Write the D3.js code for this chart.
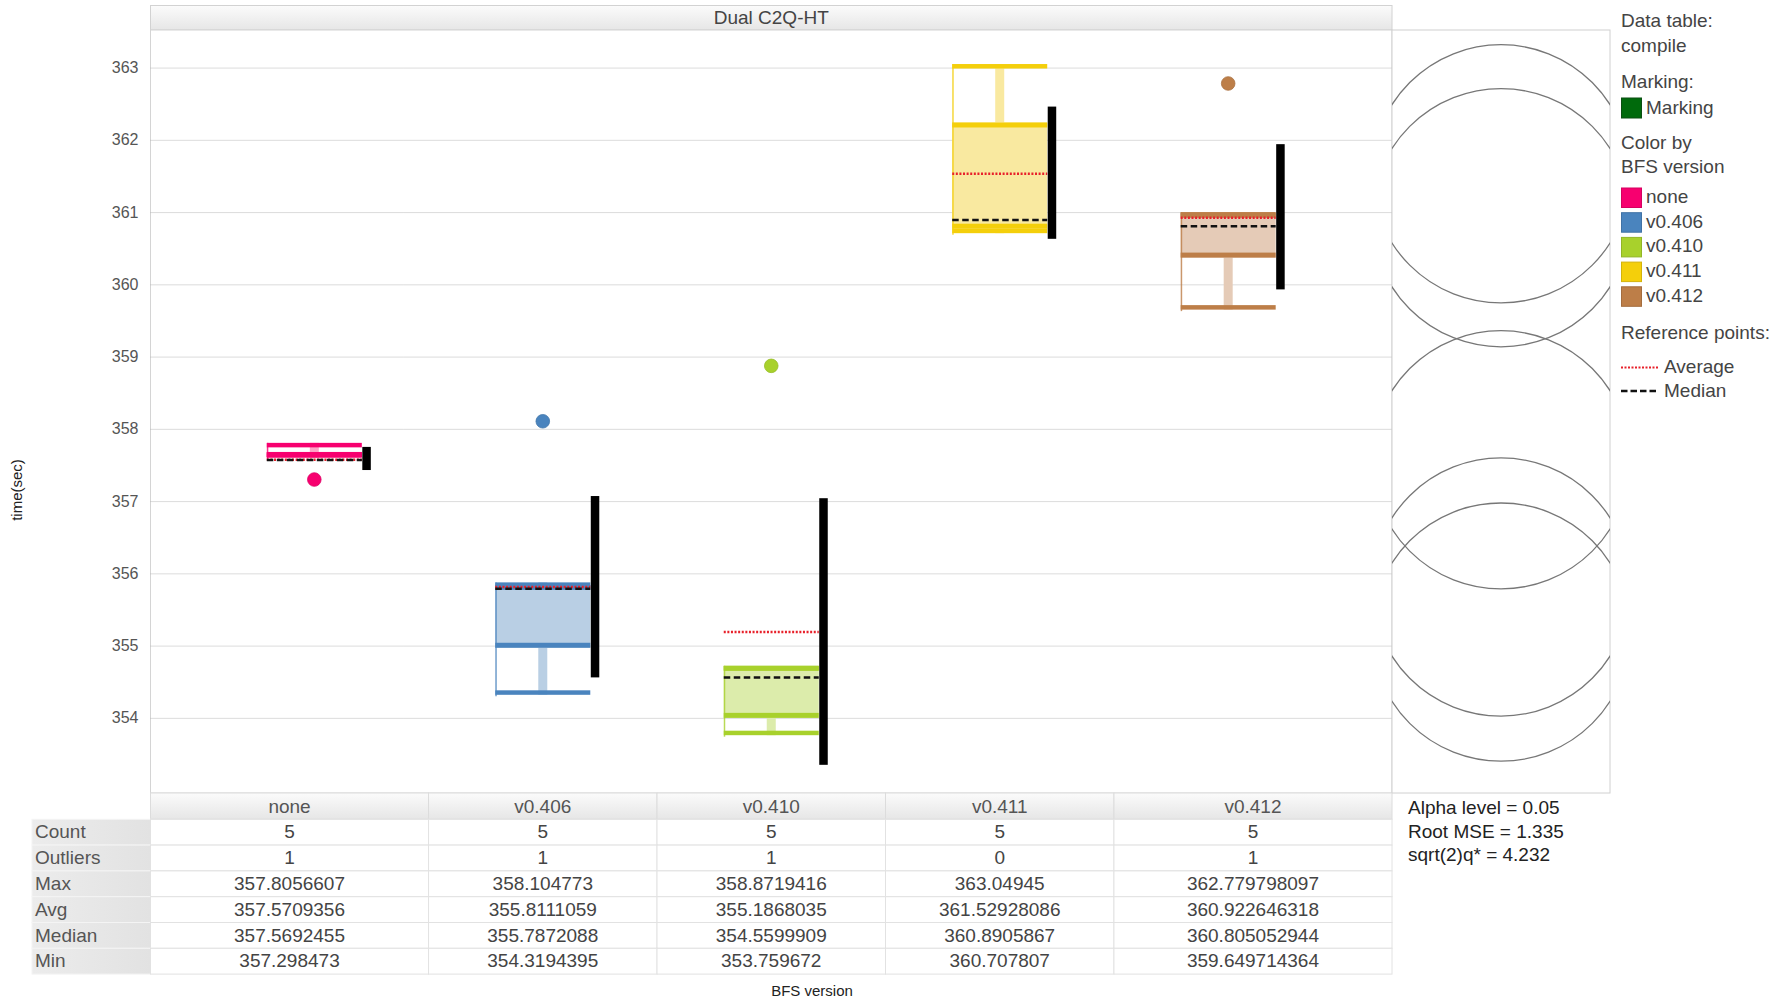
<!DOCTYPE html>
<html>
<head>
<meta charset="utf-8">
<script src="https://cdn.jsdelivr.net/npm/d3@7"></script>
<style>
  body { margin: 0; background: #fff; }
  #plot-container { width: 1788px; height: 998px; }
  text { font-family: "Liberation Sans", Arial, sans-serif; }
</style>
</head>
<body>
<div id="plot-container"></div>
<script>
// categories and summary table values
const categories = ['none', 'v0.406', 'v0.410', 'v0.411', 'v0.412'];
const counts = [5, 5, 5, 5, 5];
const outlierCounts = [1, 1, 1, 0, 1];
const maxVals = [357.8056607, 358.104773, 358.8719416, 363.04945, 362.779798097];
const avgVals = [357.5709356, 355.8111059, 355.1868035, 361.52928086, 360.922646318];
const medianVals = [357.5692455, 355.7872088, 354.5599909, 360.8905867, 360.805052944];
const minVals = [357.298473, 354.3194395, 353.759672, 360.707807, 359.649714364];

// box parts
const upperAdj = [357.806, 355.875, 354.72, 363.049, 361.0];
const q3Vals = [357.68, 355.84, 354.72, 362.24, 360.99];
const q1Vals = [357.61, 354.97, 354.0, 360.77, 360.37];
const lowerAdj = [357.6, 354.319, 353.76, 360.708, 359.65];
const outlierPoints = [
  { cat: 'none', value: 357.298473 },
  { cat: 'v0.406', value: 358.104773 },
  { cat: 'v0.410', value: 358.8719416 },
  { cat: 'v0.412', value: 362.779798097 }
];

// comparison intervals and circles
const ciLow = [357.43, 354.56, 353.35, 360.63, 359.93];
const ciHigh = [357.75, 357.07, 357.04, 362.46, 361.94];
const circleRadius = [1.787, 1.787, 1.787, 1.787, 1.787];

const yTicks = [354, 355, 356, 357, 358, 359, 360, 361, 362, 363];
const statLabels = ['Count', 'Outliers', 'Max', 'Avg', 'Median', 'Min'];
const statRows = [counts, outlierCounts, maxVals, avgVals, medianVals, minVals];
const testLines = ['Alpha level = 0.05', 'Root MSE = 1.335', 'sqrt(2)q* = 4.232'];

const colors = ['#f7006f', '#4a84be', '#a8d12c', '#f4cf0b', '#bd7e48'];
const lightColors = ['#fda4c6', '#b9cfe4', '#dcecab', '#f9e9a0', '#e5cbb7'];

function drawChart() {
  const W = 1788, H = 998;
  const plot = { left: 150.5, right: 1392, top: 30, bottom: 793 };
  const panel = { left: 1392, right: 1610 };

  const svg = d3.select('#plot-container')
    .append('svg')
    .attr('width', W)
    .attr('height', H);

  const defs = svg.append('defs');
  const g1 = defs.append('linearGradient').attr('id', 'hdr').attr('x1', 0).attr('y1', 0).attr('x2', 0).attr('y2', 1);
  g1.append('stop').attr('offset', '0%').attr('stop-color', '#fbfbfb');
  g1.append('stop').attr('offset', '100%').attr('stop-color', '#e6e6e6');
  const g2 = defs.append('linearGradient').attr('id', 'rowlab').attr('x1', 0).attr('y1', 0).attr('x2', 1).attr('y2', 0);
  g2.append('stop').attr('offset', '0%').attr('stop-color', '#ececec');
  g2.append('stop').attr('offset', '100%').attr('stop-color', '#e2e2e2');
  defs.append('clipPath').attr('id', 'panel-clip')
    .append('rect')
    .attr('x', panel.left).attr('y', plot.top)
    .attr('width', panel.right - panel.left).attr('height', plot.bottom - plot.top);

  const x = d3.scalePoint()
    .domain(categories)
    .range([plot.left, plot.right])
    .padding(0.717);

  const y = d3.scaleLinear()
    .domain([352.96, 363.52])
    .range([plot.bottom, plot.top]);

  // title bar
  svg.append('rect')
    .attr('x', plot.left).attr('y', 5.5)
    .attr('width', plot.right - plot.left).attr('height', plot.top - 5.5)
    .attr('fill', 'url(#hdr)').attr('stroke', '#d2d2d2');
  svg.append('text')
    .attr('x', (plot.left + plot.right) / 2).attr('y', 24)
    .attr('text-anchor', 'middle')
    .style('font-size', '19px').attr('fill', '#444')
    .text('Dual C2Q-HT');

  // plot frame
  svg.append('rect')
    .attr('x', plot.left).attr('y', plot.top)
    .attr('width', plot.right - plot.left).attr('height', plot.bottom - plot.top)
    .attr('fill', '#fff').attr('stroke', '#d4d4d4');

  // gridlines
  const grid = svg.append('g')
    .attr('transform', `translate(${plot.left},0)`)
    .call(d3.axisLeft(y).tickValues(yTicks).tickSize(-(plot.right - plot.left)).tickFormat(''));
  grid.select('.domain').remove();
  grid.selectAll('line')
    .attr('stroke', '#b8b8b8')
    .attr('stroke-dasharray', '1,1');

  // y tick labels
  const yAxis = svg.append('g')
    .attr('transform', `translate(${plot.left},0)`)
    .call(d3.axisLeft(y).tickValues(yTicks).tickSize(0).tickPadding(12));
  yAxis.select('.domain').remove();
  yAxis.selectAll('text')
    .style('font-size', '16px')
    .style('font-family', '"Liberation Sans", Arial, sans-serif')
    .attr('fill', '#555');

  svg.append('text')
    .attr('transform', 'translate(22,490) rotate(-90)')
    .attr('text-anchor', 'middle')
    .style('font-size', '15px').attr('fill', '#222')
    .text('time(sec)');

  // boxes
  const half = 47.5;
  categories.forEach((cat, i) => {
    const c = x(cat);
    const g = svg.append('g');
    const dark = colors[i], light = lightColors[i];

    g.append('rect')
      .attr('x', c - half).attr('y', y(q3Vals[i]))
      .attr('width', half * 2).attr('height', y(q1Vals[i]) - y(q3Vals[i]))
      .attr('fill', light);
    g.append('rect')
      .attr('x', c - 4.5).attr('y', y(upperAdj[i]))
      .attr('width', 9).attr('height', y(q3Vals[i]) - y(upperAdj[i]))
      .attr('fill', light);
    g.append('rect')
      .attr('x', c - 4.5).attr('y', y(q1Vals[i]))
      .attr('width', 9).attr('height', y(lowerAdj[i]) - y(q1Vals[i]))
      .attr('fill', light);
    g.append('line')
      .attr('x1', c - half + 0.75).attr('x2', c - half + 0.75)
      .attr('y1', y(upperAdj[i])).attr('y2', y(lowerAdj[i]) + 1.5)
      .attr('stroke', dark).attr('stroke-width', 1.5).attr('opacity', 0.8);
    // quartile lines and whisker caps
    [[y(q3Vals[i]), 5], [y(q1Vals[i]) - 5, 5], [y(upperAdj[i]), 4.5], [y(lowerAdj[i]) - 4.5, 4.5]]
      .forEach(([top, h]) => {
        g.append('rect')
          .attr('x', c - half).attr('y', top)
          .attr('width', half * 2).attr('height', h)
          .attr('fill', dark);
      });

    g.append('line')
      .attr('x1', c - half).attr('x2', c + half)
      .attr('y1', y(avgVals[i])).attr('y2', y(avgVals[i]))
      .attr('stroke', '#e8202a').attr('stroke-width', 2.5)
      .attr('stroke-dasharray', '2,1.6');
    g.append('line')
      .attr('x1', c - half).attr('x2', c + half)
      .attr('y1', y(medianVals[i])).attr('y2', y(medianVals[i]))
      .attr('stroke', '#111').attr('stroke-width', 2.5)
      .attr('stroke-dasharray', '6.5,3.5');

    g.append('rect')
      .attr('x', c + half + 0.5).attr('y', y(ciHigh[i]))
      .attr('width', 8.5).attr('height', y(ciLow[i]) - y(ciHigh[i]))
      .attr('fill', '#000');
  });

  svg.selectAll('.outlier')
    .data(outlierPoints)
    .enter().append('circle')
    .attr('class', 'outlier')
    .attr('cx', d => x(d.cat))
    .attr('cy', d => y(d.value))
    .attr('r', 6.8)
    .attr('fill', d => colors[categories.indexOf(d.cat)])
    .attr('stroke', d => d3.color(colors[categories.indexOf(d.cat)]).darker(0.3))
    .attr('stroke-width', 0.8);

  // comparison circles panel
  svg.append('rect')
    .attr('x', panel.left).attr('y', plot.top)
    .attr('width', panel.right - panel.left).attr('height', plot.bottom - plot.top)
    .attr('fill', '#fff').attr('stroke', '#d0d0d0');
  const cx = (panel.left + panel.right) / 2;
  svg.append('g')
    .attr('clip-path', 'url(#panel-clip)')
    .selectAll('circle')
    .data(categories)
    .enter().append('circle')
    .attr('cx', cx)
    .attr('cy', (d, i) => y(avgVals[i]))
    .attr('r', (d, i) => y(avgVals[i] - circleRadius[i]) - y(avgVals[i]))
    .attr('fill', 'none')
    .attr('stroke', '#777')
    .attr('stroke-width', 1.3);

  // summary table
  const bounds = [plot.left];
  for (let i = 0; i < categories.length - 1; i++) {
    bounds.push((x(categories[i]) + x(categories[i + 1])) / 2);
  }
  bounds.push(plot.right);
  const hdrTop = 793, hdrH = 26.3, rowH = 25.8, labLeft = 32;

  const table = svg.append('g');
  categories.forEach((cat, i) => {
    table.append('rect')
      .attr('x', bounds[i]).attr('y', hdrTop)
      .attr('width', bounds[i + 1] - bounds[i]).attr('height', hdrH)
      .attr('fill', 'url(#hdr)').attr('stroke', '#dcdcdc');
    table.append('text')
      .attr('x', (bounds[i] + bounds[i + 1]) / 2).attr('y', hdrTop + 19.5)
      .attr('text-anchor', 'middle')
      .style('font-size', '19px').attr('fill', '#555')
      .text(cat);
  });
  statLabels.forEach((lab, r) => {
    const top = hdrTop + hdrH + r * rowH;
    table.append('rect')
      .attr('x', labLeft).attr('y', top)
      .attr('width', plot.left - labLeft).attr('height', rowH)
      .attr('fill', 'url(#rowlab)').attr('stroke', '#f4f4f4');
    table.append('text')
      .attr('x', labLeft + 3).attr('y', top + 19)
      .style('font-size', '19px').attr('fill', '#555')
      .text(lab);
    statRows[r].forEach((v, i) => {
      table.append('rect')
        .attr('x', bounds[i]).attr('y', top)
        .attr('width', bounds[i + 1] - bounds[i]).attr('height', rowH)
        .attr('fill', '#fff').attr('stroke', '#e2e2e2');
      table.append('text')
        .attr('x', (bounds[i] + bounds[i + 1]) / 2).attr('y', top + 19)
        .attr('text-anchor', 'middle')
        .style('font-size', '19px').attr('fill', '#444')
        .text(String(v));
    });
  });

  testLines.forEach((t, i) => {
    svg.append('text')
      .attr('x', 1408).attr('y', 814 + i * 23.5)
      .style('font-size', '19px').attr('fill', '#222')
      .text(t);
  });

  svg.append('text')
    .attr('x', 812).attr('y', 996)
    .attr('text-anchor', 'middle')
    .style('font-size', '15px').attr('fill', '#222')
    .text('BFS version');

  // legend
  const lg = svg.append('g').attr('transform', 'translate(1621,0)');
  const lt = (txt, yy, xx = 0) => lg.append('text')
    .attr('x', xx).attr('y', yy)
    .style('font-size', '19px').attr('fill', '#444')
    .text(txt);
  lt('Data table:', 27);
  lt('compile', 52);
  lt('Marking:', 88);
  lg.append('rect').attr('x', 0.5).attr('y', 98).attr('width', 20).attr('height', 20)
    .attr('fill', '#006a0c').attr('stroke', '#0a4f12');
  lt('Marking', 113.5, 25);
  lt('Color by', 148.5);
  lt('BFS version', 173);
  categories.forEach((cat, i) => {
    const top = 188 + i * 24.7;
    lg.append('rect').attr('x', 0.5).attr('y', top).attr('width', 20).attr('height', 19.5)
      .attr('fill', colors[i]).attr('stroke', d3.color(colors[i]).darker(0.4));
    lt(cat, top + 15, 25);
  });
  lt('Reference points:', 338.5);
  lg.append('line').attr('x1', 0).attr('x2', 38).attr('y1', 367.5).attr('y2', 367.5)
    .attr('stroke', '#e8202a').attr('stroke-width', 2).attr('stroke-dasharray', '2,1.5');
  lt('Average', 373, 43);
  lg.append('line').attr('x1', 0).attr('x2', 38).attr('y1', 391).attr('y2', 391)
    .attr('stroke', '#111').attr('stroke-width', 2.5).attr('stroke-dasharray', '6.5,3');
  lt('Median', 397, 43);
}

drawChart();
</script>
</body>
</html>
